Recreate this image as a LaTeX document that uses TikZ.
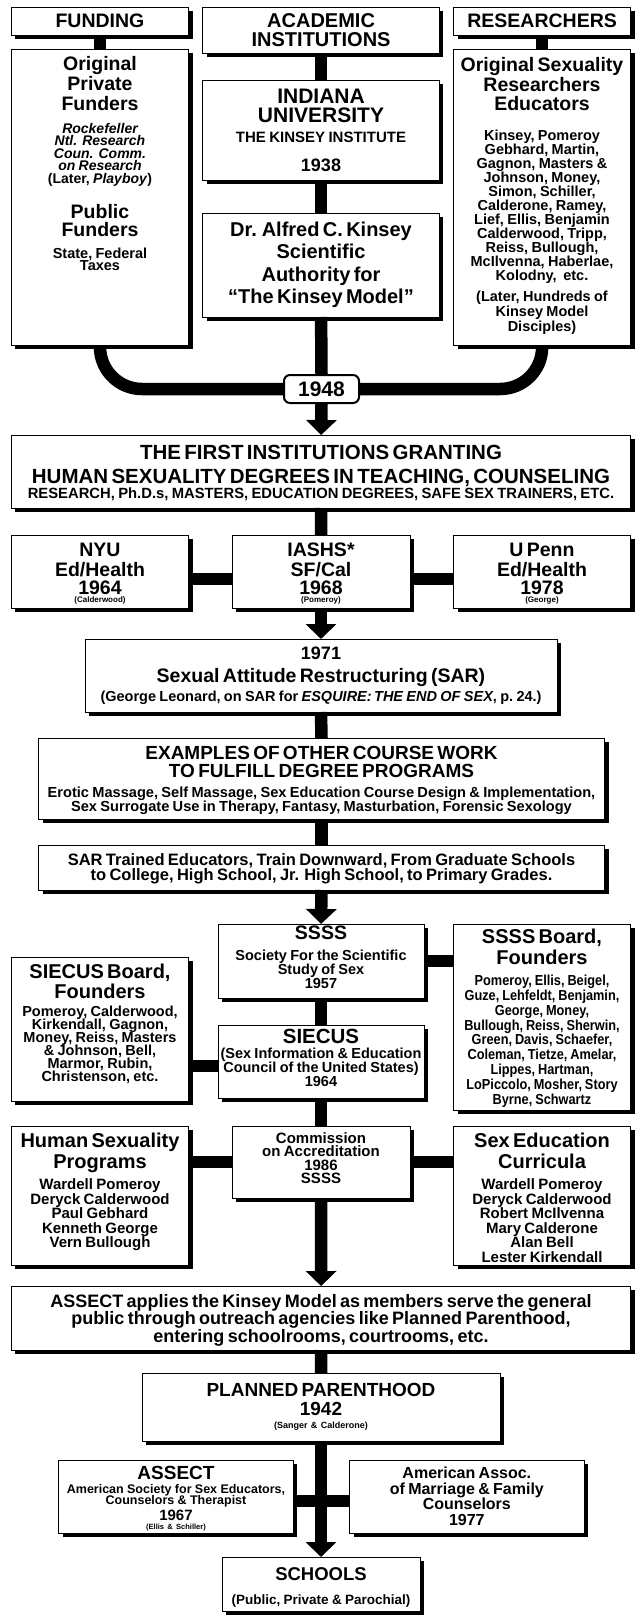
\documentclass[tikz,border=0pt]{standalone}
\usepackage{fontspec}
\setmainfont{Liberation Sans}
\usepackage{graphicx}
\usetikzlibrary{arrows.meta,shadows}
\newcommand\fsz[2]{\fontsize{#1}{#2}\selectfont}
\newcommand\tightl{\lineskiplimit=-100pt\lineskip=0pt\relax}
\newcommand\sqz[1]{\scalebox{0.88}[1]{#1}}
\newcommand\bx[6][]{\pgfmathsetmacro\myBW{#5-#3}\pgfmathsetmacro\myBH{#6-#4}%
  \pgfmathsetmacro\myBX{(#3+#5)/2}\pgfmathsetmacro\myBY{(#4+#6)/2}%
  \node[box,#1,minimum width=\myBW pt,minimum height=\myBH pt] (#2) at (\myBX,\myBY) {};}
\begin{document}
\begin{tikzpicture}[x=1pt,y=-1pt,
 box/.style={draw=black,line width=0.9pt,fill=white,inner sep=0pt,outer sep=0pt,
   drop shadow={shadow xshift=4pt,shadow yshift=-4pt,opacity=1,fill=black}},
 yrbox/.style={draw=black,line width=2pt,fill=white,rounded corners=6pt,inner sep=0pt,
   minimum width=75pt,minimum height=28pt,font=\bfseries\fsz{21}{21}},
 txt/.style={inner sep=0pt,outer sep=0pt,align=center,text width=620pt,font=\bfseries\tightl,anchor=north},
 bar/.style={line width=12.5pt,draw=black},
 arr/.style={bar,-{Triangle[width=30pt,length=15pt]}}]
\path[fill=white,use as bounding box] (0,0) rectangle (636,1616);

% boxes
\bx{funding}{11.4}{7}{188.6}{35}
\bx{academic}{202.8}{7}{439.4}{53}
\bx{researchers}{453.5}{7}{630.8}{35}
\bx{funders}{11.4}{49.5}{188.6}{345}
\bx{reslist}{453.5}{49.5}{630.8}{345}
\bx{indiana}{202.8}{80}{439.4}{180}
\bx{kinsey}{202.8}{213}{439.4}{317}
\node[yrbox] (y1948) at (321.5,389) {1948};
\bx{first}{11.4}{435}{630.8}{508}
\bx{nyu}{11.4}{535}{188.6}{608}
\bx{iashs}{232}{535}{410}{608}
\bx{upenn}{453.5}{535}{630.8}{608}
\bx{sar}{85}{639}{557}{712}
\bx{examples}{38.5}{738}{604.5}{819}
\bx{sartrained}{38.5}{845}{604.5}{890}
\bx{ssss}{218}{924}{424}{998}
\bx{ssssboard}{453.5}{924}{630.8}{1110}
\bx{siecusboard}{11.4}{957}{188.6}{1101}
\bx{siecus}{218}{1025}{424}{1098}
\bx{hsp}{11.4}{1126}{188.6}{1265}
\bx{commission}{232}{1126}{410}{1198}
\bx{sec}{453.5}{1126}{630.8}{1265}
\bx{applies}{11.4}{1286}{630.8}{1350}
\bx{pp}{142}{1373}{500}{1441}
\bx{assect}{58.8}{1460}{293}{1533}
\bx{aa}{349.7}{1460}{584}{1533}
\bx{schools}{222}{1557}{420}{1611}

% texts
\node[txt,anchor=center] (t1) at (funding) {\fsz{19.5}{20}FUNDING};
\node[txt,anchor=center] (t2) at (academic) {\fsz{20}{18.7}ACADEMIC\\INSTITUTIONS\par};
\node[txt,anchor=center] (t3) at (researchers) {\fsz{19.5}{20}RESEARCHERS};
\node[txt] (t4) at (100,56.7) {{\fsz{19.5}{20}Original\\Private\\Funders\par}\vspace{10.1pt}%
{\fsz{14}{12.5}\itshape Rockefeller\\Ntl. Research\\Coun. Comm.\\on Research\\\upshape (Later, \textit{Playboy})\par}\vspace{16.6pt}%
{\fsz{19.5}{18.4}Public\\Funders\par}\vspace{9.9pt}%
{\fsz{14.5}{11.7}State, Federal\\Taxes\par}};
\node[txt] (t5) at (542,57.7) {{\fsz{19.5}{19.2}Original Sexuality\\Researchers\\Educators\par}\vspace{16pt}%
{\fsz{14.5}{14}Kinsey, Pomeroy\\Gebhard, Martin,\\Gagnon, Masters \&\\Johnson, Money,\\Simon, Schiller,\\Calderone, Ramey,\\Lief, Ellis, Benjamin\\Calderwood, Tripp,\\Reiss, Bullough,\\McIlvenna, Haberlae,\\Kolodny,\ \ etc.\par}\vspace{6pt}%
{\fsz{14.5}{15}(Later, Hundreds of\\Kinsey Model\\Disciples)\par}};
\node[txt] (t6) at (321,89) {{\fsz{21}{19.3}INDIANA\\UNIVERSITY\par}\vspace{5pt}%
{\fsz{15}{15}THE KINSEY INSTITUTE\par}\vspace{10.4pt}{\fsz{18}{18}1938\par}};
\node[txt] (t7) at (321,222.4) {\fsz{20}{22.1}Dr. Alfred C. Kinsey\\Scientific\\Authority for\\“The Kinsey Model”\par};
\node[txt] (t8) at (321,445.5) {{\fsz{20.5}{23.3}THE FIRST INSTITUTIONS GRANTING\\HUMAN SEXUALITY DEGREES IN TEACHING, COUNSELING\par}%
{\fsz{14.8}{15.5}RESEARCH, Ph.D.s, MASTERS, EDUCATION DEGREES, SAFE SEX TRAINERS, ETC.\par}};
\node[txt] (t9) at (100,542.7) {{\fsz{19.5}{20}NYU\\Ed/Health\par}{\fsz{19.5}{18.3}1964\par}{\fsz{8}{8}(Calderwood)\par}};
\node[txt] (t10) at (321,542.7) {{\fsz{19.5}{20}IASHS*\\SF/Cal\par}{\fsz{19.5}{18.3}1968\par}{\fsz{8}{8}(Pomeroy)\par}};
\node[txt] (t11) at (542,542.7) {{\fsz{19.5}{20}U Penn\\Ed/Health\par}{\fsz{19.5}{18.3}1978\par}{\fsz{8}{8}(George)\par}};
\node[txt] (t12) at (321,647) {{\fsz{18}{18}1971\par}\vspace{3.5pt}{\fsz{19.5}{19.5}Sexual Attitude Restructuring (SAR)\par}%
{\fsz{14.5}{19}(George Leonard, on SAR for \textit{ESQUIRE:\,THE END OF SEX}, p.~24.)\par}};
\node[txt] (t13) at (321.5,746.4) {{\fsz{19}{18.3}EXAMPLES OF OTHER COURSE WORK\\TO FULFILL DEGREE PROGRAMS\par}\vspace{6.6pt}%
{\fsz{14.6}{13.4}Erotic Massage, Self Massage, Sex Education Course Design \& Implementation,\\Sex Surrogate Use in Therapy, Fantasy, Masturbation, Forensic Sexology\par}};
\node[txt] (t14) at (321.5,853.5) {\fsz{16.5}{15}SAR Trained Educators, Train Downward, From Graduate Schools\\to College, High School, Jr. High School, to Primary Grades.\par};
\node[txt] (t15) at (321,926) {{\fsz{19.5}{19.5}SSSS\par}\vspace{7.2pt}{\fsz{14.5}{13.8}Society For the Scientific\\Study of Sex\\1957\par}};
\node[txt] (t16) at (542,928.7) {{\fsz{20}{21}SSSS Board,\\Founders\par}\vspace{6.7pt}%
{\fsz{14.5}{14.8}\sqz{Pomeroy, Ellis, Beigel,}\\\sqz{Guze, Lehfeldt, Benjamin,}\\\sqz{George, Money,}\\\sqz{Bullough, Reiss, Sherwin,}\\\sqz{Green, Davis, Schaefer,}\\\sqz{Coleman, Tietze, Amelar,}\\\sqz{Lippes, Hartman,}\\\sqz{LoPiccolo, Mosher, Story}\\\sqz{Byrne, Schwartz}\par}};
\node[txt] (t17) at (100,964) {{\fsz{20}{20}SIECUS Board,\\Founders\par}\vspace{5.5pt}%
{\fsz{14.5}{12.9}Pomeroy, Calderwood,\\Kirkendall, Gagnon,\\Money, Reiss, Masters\\\& Johnson, Bell,\\Marmor, Rubin,\\Christenson, etc.\par}};
\node[txt,anchor=center] (t18) at (321,1058) {{\fsz{20.5}{20.5}SIECUS\par}\vspace{1.5pt}%
{\fsz{14.5}{14}(Sex Information \& Education\\Council of the United States)\\1964\par}};
\node[txt] (t19) at (100,1133) {{\fsz{20}{20.5}Human Sexuality\\Programs\par}\vspace{7.4pt}%
{\fsz{15}{14.5}Wardell Pomeroy\\Deryck Calderwood\\Paul Gebhard\\Kenneth George\\Vern Bullough\par}};
\node[txt] (t20) at (321,1132.7) {\fsz{15}{13.4}Commission\\on Accreditation\\1986\\SSSS\par};
\node[txt] (t21) at (542,1133) {{\fsz{20}{20.5}Sex Education\\Curricula\par}\vspace{7.4pt}%
{\fsz{15}{14.5}Wardell Pomeroy\\Deryck Calderwood\\Robert McIlvenna\\Mary Calderone\\Alan Bell\\Lester Kirkendall\par}};
\node[txt,anchor=center] (t22) at (321,1320) {\fsz{18}{17.5}ASSECT applies the Kinsey Model as members serve the general\\public through outreach agencies like Planned Parenthood,\\entering schoolrooms, courtrooms, etc.\par};
\node[txt,anchor=center] (t23) at (pp) {{\fsz{19}{19.5}PLANNED PARENTHOOD\\1942\par}\vspace{2pt}{\fsz{9}{11}(Sanger \& Calderone)\par}};
\node[txt] (t24) at (176,1466.5) {{\fsz{19}{19}ASSECT\par}\vspace{1.6pt}%
{\fsz{12.5}{11.7}American Society for Sex Educators,\\Counselors \& Therapist\par}\vspace{1pt}%
{\fsz{15}{15}1967\par}{\fsz{7.5}{8.5}(Ellis \& Schiller)\par}};
\node[txt,anchor=center] (t25) at (aa) {\fsz{16}{15.5}American Assoc.\\of Marriage \& Family\\Counselors\\1977\par};
\node[txt] (t26) at (321,1567.5) {{\fsz{18.5}{18.5}SCHOOLS\par}\vspace{5.5pt}{\fsz{13.5}{18.5}(Public, Private \& Parochial)\par}};

% connectors
\coordinate (h1) at (0,579);
\coordinate (h3) at (0,1066);
\coordinate (h4) at (0,1501);
\draw[bar] (funding.south) -- (funders.north);
\draw[bar] (researchers.south) -- (reslist.north);
\draw[bar] (academic.south) -- (indiana.north);
\draw[bar] (indiana.south) -- (kinsey.north);
\draw[bar] (kinsey.south) -- (y1948.north);
\draw[bar,rounded corners=42pt] (funders.south) -- (funders.south |- y1948.west) -- (y1948.west);
\draw[bar,rounded corners=42pt] (reslist.south) -- (reslist.south |- y1948.east) -- (y1948.east);
\draw[arr] (y1948.south) -- (first.north);
\draw[bar] (first.south) -- (iashs.north);
\draw[bar] (nyu.east |- h1) -- (iashs.west |- h1);
\draw[bar] (iashs.east |- h1) -- (upenn.west |- h1);
\draw[arr] (iashs.south) -- (sar.north);
\draw[bar] (sar.south) -- (examples.north);
\draw[bar] (examples.south) -- (sartrained.north);
\draw[arr] (sartrained.south) -- (ssss.north);
\draw[bar] (ssss.east) -- (ssssboard.west |- ssss.east);
\draw[bar] (ssss.south) -- (siecus.north);
\draw[bar] (siecusboard.east |- h3) -- (siecus.west |- h3);
\draw[bar] (siecus.south) -- (commission.north);
\draw[bar] (hsp.east |- commission.west) -- (commission.west);
\draw[bar] (commission.east) -- (sec.west |- commission.east);
\draw[arr] (commission.south) -- (applies.north);
\draw[bar] (applies.south) -- (pp.north);
\draw[bar] (assect.east |- h4) -- (aa.west |- h4);
\draw[arr] (pp.south) -- (schools.north);
\end{tikzpicture}
\end{document}
